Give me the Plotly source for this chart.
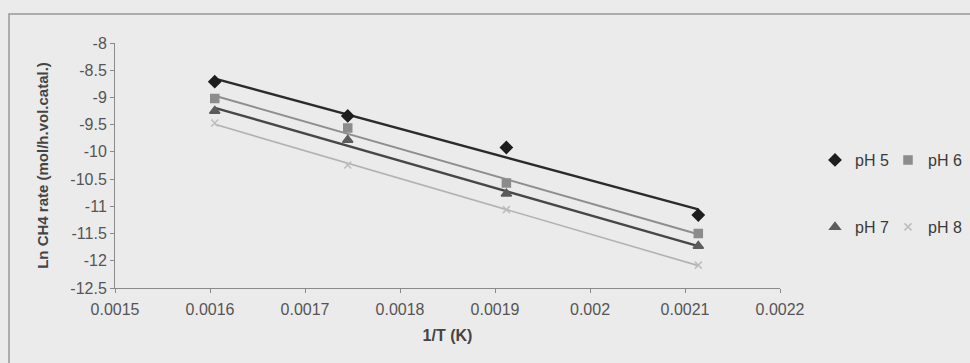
import numpy as np
import plotly.graph_objects as go

# Inverse reaction temperature (1/K) for 350, 300, 250 and 200 °C
inv_T = [0.001605, 0.001745, 0.001912, 0.002114]

# Ln of CH4 formation rate for each pH
ln_rate_ph5 = [-8.71, -9.34, -9.92, -11.16]
ln_rate_ph6 = [-9.02, -9.56, -10.57, -11.50]
ln_rate_ph7 = [-9.25, -9.78, -10.77, -11.73]
ln_rate_ph8 = [-9.47, -10.24, -11.06, -12.08]

series_names = ["pH 5", "pH 6", "pH 7", "pH 8"]

x_ticks = [0.0015, 0.0016, 0.0017, 0.0018, 0.0019, 0.0020, 0.0021, 0.0022]
x_tick_text = ["0.0015", "0.0016", "0.0017", "0.0018", "0.0019", "0.002", "0.0021", "0.0022"]
y_ticks = [-8, -8.5, -9, -9.5, -10, -10.5, -11, -11.5, -12, -12.5]
y_tick_text = ["-8", "-8.5", "-9", "-9.5", "-10", "-10.5", "-11", "-11.5", "-12", "-12.5"]

styles = [
    dict(symbol="diamond", msize=9, mcolor="#1e1e1e", lcolor="#2b2b2b", lwidth=2.4),
    dict(symbol="square", msize=8, mcolor="#8c8c8c", lcolor="#8e8e8e", lwidth=2.0),
    dict(symbol="triangle-up", msize=9, mcolor="#5c5c5c", lcolor="#474747", lwidth=2.4),
    dict(symbol="x-thin-open", msize=7, mcolor="#bdbdbd", lcolor="#b2b2b2", lwidth=1.6),
]

W, H = 970, 363
# Legend placement in container pixels (one legend per entry, 2x2 block)
legend_px = [(815, 160), (888, 160), (815, 227), (888, 227)]
legend_ids = ["legend", "legend2", "legend3", "legend4"]

BG = "#ebebeb"
FONT = "Liberation Sans, Arial, sans-serif"
fig = go.Figure()

all_series = [ln_rate_ph5, ln_rate_ph6, ln_rate_ph7, ln_rate_ph8]
for name, ys, st, lid in zip(series_names, all_series, styles, legend_ids):
    # linear trendline over the measured temperature span
    slope, intercept = np.polyfit(inv_T, ys, 1)
    xs_fit = [min(inv_T), max(inv_T)]
    fig.add_trace(go.Scatter(
        x=xs_fit, y=[slope * v + intercept for v in xs_fit],
        mode="lines", line=dict(color=st["lcolor"], width=st["lwidth"]),
        showlegend=False, hoverinfo="skip",
    ))
    fig.add_trace(go.Scatter(
        x=inv_T, y=ys, mode="markers", name=name, legend=lid,
        marker=dict(symbol=st["symbol"], size=st["msize"], color=st["mcolor"],
                    line=dict(color=st["mcolor"], width=1.5)),
    ))

axis_font = dict(family=FONT, size=16, color="#555555")
fig.update_xaxes(
    range=[0.0015, 0.0022], tickvals=x_ticks, ticktext=x_tick_text,
    showgrid=False, zeroline=False, showline=True, linecolor="#8a8a8a", linewidth=1,
    ticks="outside", ticklen=4, tickcolor="#8a8a8a", tickfont=axis_font,
    ticklabelstandoff=3,
    title=dict(text="<b>1/T (K)</b>", font=dict(family=FONT, size=16, color="#444444"),
               standoff=12),
)
fig.update_yaxes(
    range=[-12.5, -8], tickvals=y_ticks, ticktext=y_tick_text,
    showgrid=False, zeroline=False, showline=True, linecolor="#8a8a8a", linewidth=1,
    ticks="outside", ticklen=4, tickcolor="#8a8a8a", tickfont=axis_font,
    title=dict(text="<b>Ln CH4 rate (mol/h.vol.catal.)</b>",
               font=dict(family=FONT, size=15, color="#444444"), standoff=18),
)

legend_font = dict(family=FONT, size=16, color="#3a3a3a")
legend_layout = {}
for lid, (px, py) in zip(legend_ids, legend_px):
    legend_layout[lid] = dict(xref="container", yref="container",
                              x=px / W, y=1 - py / H, xanchor="left", yanchor="middle",
                              bgcolor="rgba(0,0,0,0)", font=legend_font,
                              itemwidth=30, tracegroupgap=0)

# chart frame
plot_l, plot_r, plot_t, plot_b = 115, 780, 43, 288
pw, ph = plot_r - plot_l, plot_b - plot_t
fig.add_shape(type="rect", xref="paper", yref="paper",
              x0=(9 - plot_l) / pw, x1=(990 - plot_l) / pw,
              y0=(plot_b - 375) / ph, y1=(plot_b - 14) / ph,
              line=dict(color="#999999", width=1.5), fillcolor="rgba(0,0,0,0)", layer="below")

fig.update_layout(
    width=W, height=H,
    margin=dict(l=plot_l, r=W - plot_r, t=plot_t, b=H - plot_b, autoexpand=False),
    paper_bgcolor=BG, plot_bgcolor=BG,
    **legend_layout,
)

fig.write_html("out.html")
